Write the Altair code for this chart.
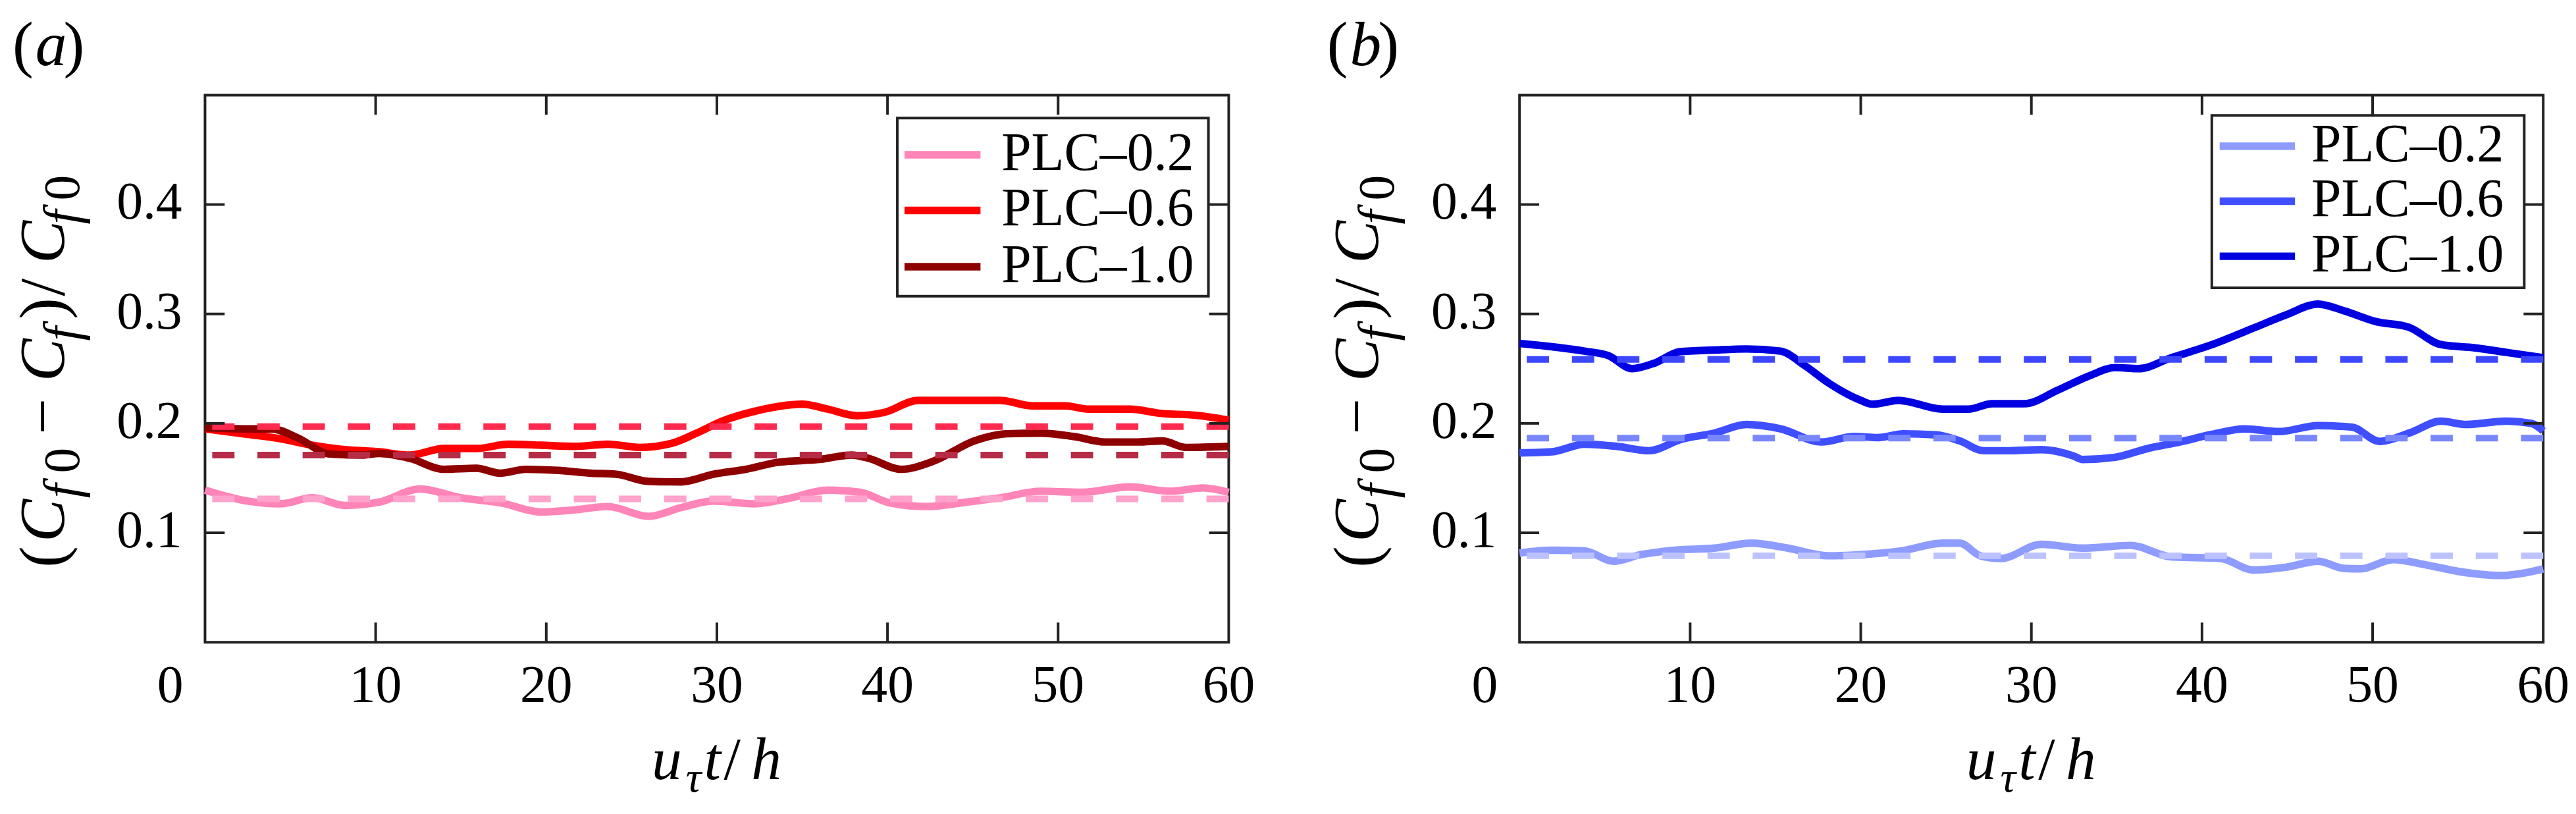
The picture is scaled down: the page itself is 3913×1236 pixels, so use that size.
import altair as alt
import pandas as pd

W, H = 1563, 835
FONT = "Liberation Serif"
SERIES = ["PLC–0.2", "PLC–0.6", "PLC–1.0"]
X_DOMAIN = [0, 60]
Y_DOMAIN = [0, 0.5]
X_LABELS = [10, 20, 30, 40, 50, 60]
X_ZERO = [0]
X_TICKS = [10, 20, 30, 40, 50]
Y_LABELS = [0.1, 0.2, 0.3, 0.4]

# ---------------- panel (a) ----------------
A02_T = [0, 2.5, 4.4, 6.3, 8.2, 10.2, 12.6, 15.0, 17.3, 19.7, 21.7, 23.6, 26.0, 27.9, 29.8,
         32.2, 34.1, 36.5, 38.4, 40.1, 42.3, 44.6, 46.6, 49.0, 51.4, 54.2, 56.6, 58.5, 60.0]
A02_V = [0.139, 0.129, 0.1265, 0.132, 0.125, 0.128, 0.140, 0.132, 0.1275, 0.119, 0.121, 0.124,
         0.115, 0.123, 0.129, 0.1265, 0.131, 0.139, 0.137, 0.1275, 0.124, 0.128, 0.132, 0.138,
         0.137, 0.142, 0.138, 0.141, 0.137]
A06_T = [0, 2.5, 4.4, 6.3, 8.2, 10.2, 12.0, 14.0, 15.9, 17.8, 19.7, 21.7, 23.6, 25.5, 27.4,
         28.8, 30.3, 32.2, 35.0, 36.5, 38.2, 39.8, 41.8, 44.6, 46.6, 48.5, 50.4, 51.8, 54.2,
         56.1, 58.0, 60.0]
A06_V = [0.195, 0.190, 0.186, 0.180, 0.176, 0.174, 0.171, 0.177, 0.177, 0.181, 0.180, 0.179,
         0.181, 0.178, 0.182, 0.191, 0.202, 0.211, 0.2175, 0.213, 0.207, 0.210, 0.221, 0.221,
         0.221, 0.216, 0.216, 0.213, 0.213, 0.209, 0.2075, 0.203]
A10_T = [0, 2.5, 3.9, 5.4, 7.3, 9.2, 10.2, 12.0, 14.0, 15.9, 17.3, 18.8, 20.7, 22.6, 24.1,
         26.0, 27.9, 29.8, 31.7, 33.6, 36.0, 37.9, 38.9, 40.8, 42.7, 45.1, 47.0, 49.0, 50.9,
         52.8, 54.7, 56.1, 57.5, 60.0]
A10_V = [0.196, 0.195, 0.195, 0.187, 0.172, 0.171, 0.1725, 0.168, 0.158, 0.159, 0.1545, 0.158,
         0.157, 0.1545, 0.1535, 0.147, 0.1465, 0.1535, 0.158, 0.1645, 0.167, 0.171, 0.168,
         0.158, 0.1655, 0.184, 0.1905, 0.191, 0.188, 0.183, 0.183, 0.184, 0.178, 0.179]
A_MEANS = [0.131, 0.197, 0.171]
A_SOLID = ["#ff85b8", "#ff0000", "#8e0000"]
A_DASHED = ["#ffa3cd", "#ff2a50", "#b62b45"]

# ---------------- panel (b) ----------------
B02_T = [0, 1.9, 3.8, 5.5, 7.1, 9.0, 11.4, 13.6, 15.7, 18.1, 20.0, 22.4, 24.8, 25.8, 27.0,
         28.2, 30.6, 33.0, 35.8, 38.2, 41.1, 43.0, 44.9, 46.8, 48.3, 49.3, 51.2, 53.2, 55.1,
         57.5, 60.0]
B02_V = [0.0815, 0.084, 0.0835, 0.074, 0.080, 0.084, 0.086, 0.0905, 0.086, 0.079, 0.080,
         0.0835, 0.0905, 0.0905, 0.079, 0.0765, 0.0895, 0.086, 0.0885, 0.078, 0.0765, 0.066,
         0.0685, 0.074, 0.0675, 0.067, 0.0755, 0.0705, 0.0645, 0.061, 0.0670]
B06_T = [0, 1.9, 3.8, 5.7, 7.6, 9.5, 11.4, 13.3, 15.3, 17.7, 19.6, 21.0, 22.5, 24.4, 25.8,
         27.2, 28.7, 30.6, 32.5, 33.0, 34.9, 36.8, 38.7, 40.6, 42.5, 44.5, 46.8, 48.8, 50.4,
         52.2, 54.0, 55.5, 57.8, 59.3, 60.0]
B06_V = [0.173, 0.174, 0.181, 0.179, 0.175, 0.1855, 0.191, 0.199, 0.195, 0.183, 0.188, 0.187,
         0.1905, 0.1895, 0.184, 0.175, 0.175, 0.176, 0.170, 0.167, 0.169, 0.177, 0.183, 0.190,
         0.195, 0.1925, 0.198, 0.1965, 0.1835, 0.1915, 0.202, 0.199, 0.202, 0.200, 0.193]
B10_T = [0, 1.9, 3.8, 5.2, 6.6, 7.9, 9.4, 11.4, 13.3, 15.3, 16.7, 18.2, 20.0, 20.7, 22.2,
         24.8, 26.3, 27.7, 29.6, 31.5, 33.4, 34.9, 36.3, 38.2, 40.6, 43.0, 44.9, 46.8, 48.3,
         50.2, 52.1, 54.0, 56.0, 57.8, 60.0]
B10_V = [0.273, 0.270, 0.266, 0.262, 0.250, 0.255, 0.2655, 0.267, 0.268, 0.266, 0.253, 0.236,
         0.221, 0.2175, 0.221, 0.213, 0.213, 0.218, 0.218, 0.230, 0.2435, 0.251, 0.250, 0.260,
         0.272, 0.287, 0.299, 0.309, 0.303, 0.293, 0.288, 0.272, 0.269, 0.265, 0.260]
B_MEANS = [0.079, 0.1865, 0.2585]
B_SOLID = ["#8e9cff", "#3f4fff", "#0000e0"]
B_DASHED = ["#bcc1ff", "#7987ff", "#3d47ff"]

# legend boxes (pixel layout inside each plot area): box, symbol span, row centres, label x
A_LEG = dict(box=(1057, 1532, 35, 307), sym=(1068, 1184), rows=(91, 176, 262), tx=1216)
B_LEG = dict(box=(1057, 1534, 31, 294), sym=(1069, 1184), rows=(78, 162, 246), tx=1209)

MAIN, SUB = 98, 78
ONE = [{"k": 0}]


def text_layer(s, x, y, size, italic=True, angle=0):
    return alt.Chart(alt.Data(values=[{"s": s}])).mark_text(
        font=FONT, fontSize=size, fontStyle="italic" if italic else "normal",
        align="left", baseline="alphabetic", angle=angle, color="black"
    ).encode(x=alt.value(x), y=alt.value(y), text="s:N")


def panel(tag, times, values, means, solid, dashed, leg):
    rows = []
    for name, ts, vs in zip(SERIES, times, values):
        for t, v in zip(ts, vs):
            rows.append({"series": name, "t": t, "v": v})
    df = pd.DataFrame(rows)
    mdf = pd.DataFrame({"series": SERIES, "m": means, "c": dashed})
    xs = alt.Scale(domain=X_DOMAIN, nice=False, zero=False)
    ys = alt.Scale(domain=Y_DOMAIN, nice=False, zero=False)

    lines = alt.Chart(df).mark_line(strokeWidth=11.5, interpolate="monotone").encode(
        x=alt.X("t:Q", scale=xs, axis=None),
        y=alt.Y("v:Q", scale=ys, axis=None),
        color=alt.Color("series:N", scale=alt.Scale(domain=SERIES, range=solid), legend=None),
    )
    means_layer = alt.Chart(mdf).mark_rule(strokeWidth=10, strokeDash=[34, 35]).encode(
        y=alt.Y("m:Q", scale=ys, axis=None),
        stroke=alt.Stroke("c:N", scale=None),
    )
    # inward ticks on all four sides
    xt = pd.DataFrame({"xt": X_TICKS})
    yt = pd.DataFrame({"yt": Y_LABELS})
    tick = dict(color="#222", strokeWidth=4)
    t_bottom = alt.Chart(xt).mark_rule(**tick).encode(
        x=alt.X("xt:Q", scale=xs, axis=None), y=alt.value(H), y2=alt.value(H - 30))
    t_top = alt.Chart(xt).mark_rule(**tick).encode(
        x=alt.X("xt:Q", scale=xs, axis=None), y=alt.value(0), y2=alt.value(30))
    t_left = alt.Chart(yt).mark_rule(**tick).encode(
        y=alt.Y("yt:Q", scale=ys, axis=None), x=alt.value(0), x2=alt.value(30))
    t_right = alt.Chart(yt).mark_rule(**tick).encode(
        y=alt.Y("yt:Q", scale=ys, axis=None), x=alt.value(W - 30), x2=alt.value(W))

    # tick labels placed through the scales
    lab = dict(font=FONT, fontSize=80, color="black", baseline="alphabetic")
    xl = alt.Chart(pd.DataFrame({"xv": X_LABELS})).mark_text(align="center", **lab).encode(
        x=alt.X("xv:Q", scale=xs, axis=None), y=alt.value(H + 91),
        text=alt.Text("xv:Q", format="d"))
    x0 = alt.Chart(pd.DataFrame({"xv": X_ZERO})).mark_text(align="center", dx=-53, **lab).encode(
        x=alt.X("xv:Q", scale=xs, axis=None), y=alt.value(H + 91),
        text=alt.Text("xv:Q", format="d"))
    yl = alt.Chart(pd.DataFrame({"yv": Y_LABELS})).mark_text(align="right", dy=22, **lab).encode(
        y=alt.Y("yv:Q", scale=ys, axis=None), x=alt.value(-35),
        text=alt.Text("yv:Q", format=".1f"))

    # legend box
    bx0, bx1, by0, by1 = leg["box"]
    legend_layers = [alt.Chart(alt.Data(values=ONE)).mark_rect(
        fill="white", stroke="#222", strokeWidth=4).encode(
        x=alt.value(bx0), x2=alt.value(bx1), y=alt.value(by0), y2=alt.value(by1))]
    for name, col, ry in zip(SERIES, solid, leg["rows"]):
        legend_layers.append(alt.Chart(alt.Data(values=ONE)).mark_rule(
            strokeWidth=11.5, color=col).encode(
            x=alt.value(leg["sym"][0]), x2=alt.value(leg["sym"][1]), y=alt.value(ry)))
        legend_layers.append(text_layer(name, leg["tx"], ry + 23, 82, italic=False))

    texts = [
        text_layer("(", -294, -46, 96, italic=False),
        text_layer(tag, -259, -46, 96),
        text_layer(")", -216, -46, 96, italic=False),
    ]
    texts += [
        text_layer("u", 682, 1044, 92),
        text_layer("τ", 734, 1063, 66),
        text_layer("t", 762, 1044, 92),
        text_layer("/", 792, 1044, 92, italic=False),
        text_layer("h", 834, 1044, 92),
    ]
    bm, bs = -216, -192
    ypieces = [
        ("(", 721, bm, MAIN, False), ("C", 682, bm, MAIN, True), ("f", 615, bs, SUB, True),
        ("0", 577, bs, SUB, False), ("−", 518, bm, MAIN, False), ("C", 437, bm, MAIN, True),
        ("f", 375, bs, SUB, True), (")", 342, bm, MAIN, False), ("/", 307, bm, MAIN, False),
        ("C", 257, bm, MAIN, True), ("f", 197, bs, SUB, True), ("0", 161, bs, SUB, False),
    ]
    for s, y, x, size, it in ypieces:
        texts.append(text_layer(s, x, y, size, italic=it, angle=270))

    return alt.layer(lines, means_layer, t_bottom, t_top, t_left, t_right, xl, x0, yl,
                     *legend_layers, *texts).properties(width=W, height=H)


pa = panel("a", [A02_T, A06_T, A10_T], [A02_V, A06_V, A10_V], A_MEANS, A_SOLID, A_DASHED, A_LEG)
pb = panel("b", [B02_T, B06_T, B10_T], [B02_V, B06_V, B10_V], B_MEANS, B_SOLID, B_DASHED, B_LEG)

chart = alt.hconcat(pa, pb, spacing=106).resolve_scale(color="independent").configure(
    padding={"left": 9, "top": 9, "right": 0, "bottom": 0}, background="white"
).configure_view(stroke="#222", strokeWidth=4)

chart.save("out.html", embed_options={"renderer": "svg", "actions": False})
